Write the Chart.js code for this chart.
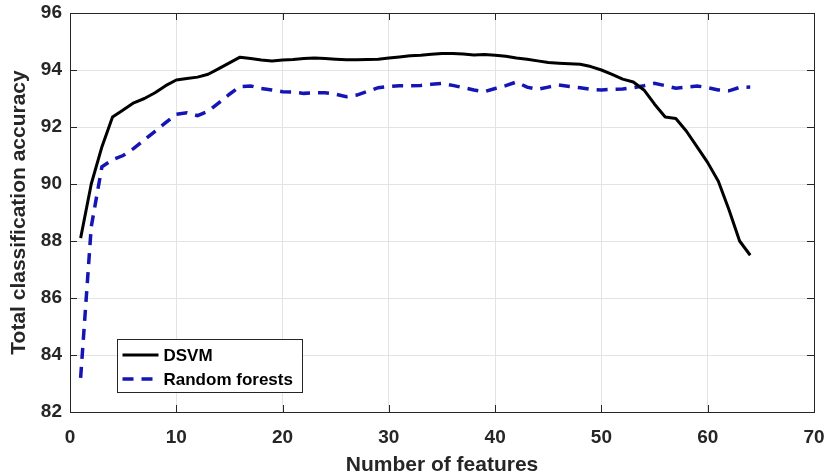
<!DOCTYPE html>
<html>
<head>
<meta charset="utf-8">
<script src="https://cdn.jsdelivr.net/npm/chart.js@4.4.1/dist/chart.umd.min.js"></script>
<style>
    html, body { margin: 0; padding: 0; background: #ffffff; }
    #wrap { width: 825px; height: 476px; }
</style>
</head>
<body>
<div id="wrap"><canvas id="accuracyChart" width="825" height="476"></canvas></div>
<script>
// Number of features on the x axis
const featureCounts = [
    1, 2, 3, 4, 5, 6, 7, 8, 9, 10, 11, 12, 13, 14, 15, 16,
    17, 18, 19, 20, 21, 22, 23, 24, 25, 26, 27, 28, 29, 30, 31, 32,
    33, 34, 35, 36, 37, 38, 39, 40, 41, 42, 43, 44, 45, 46, 47, 48,
    49, 50, 51, 52, 53, 54, 55, 56, 57, 58, 59, 60, 61, 62, 63, 64
];

const dsvmAccuracy = [
    88.1, 90.0, 91.3, 92.35, 92.6, 92.85, 93.0, 93.2, 93.45, 93.65, 93.7, 93.75, 93.85, 94.05, 94.25, 94.45,
    94.4, 94.35, 94.32, 94.35, 94.37, 94.4, 94.42, 94.4, 94.38, 94.36, 94.36, 94.37, 94.38, 94.42, 94.46, 94.5,
    94.52, 94.55, 94.58, 94.58, 94.56, 94.53, 94.54, 94.52, 94.48, 94.42, 94.38, 94.32, 94.26, 94.24, 94.22, 94.2,
    94.12, 94.0, 93.85, 93.68, 93.58, 93.3, 92.8, 92.35, 92.3, 91.85, 91.3, 90.75, 90.1, 89.1, 88.0, 87.5
];

const randomForestAccuracy = [
    83.2, 88.5, 90.6, 90.85, 91.0, 91.25, 91.55, 91.85, 92.15, 92.45, 92.5, 92.4, 92.55, 92.85, 93.15, 93.42,
    93.44, 93.35, 93.3, 93.24, 93.22, 93.18, 93.2, 93.2, 93.15, 93.06, 93.12, 93.25, 93.38, 93.42, 93.45, 93.45,
    93.46, 93.5, 93.53, 93.46, 93.38, 93.3, 93.24, 93.35, 93.45, 93.58, 93.4, 93.32, 93.4, 93.47, 93.42, 93.38,
    93.32, 93.3, 93.32, 93.33, 93.38, 93.45, 93.53, 93.45, 93.36, 93.4, 93.44, 93.38, 93.3, 93.27, 93.39, 93.4
];

const seriesLabels = ['DSVM', 'Random forests'];

var axisColor = '#262626';
var fontName = '"Liberation Sans", Arial, sans-serif';

function toPoints(values) {
    var points = [];
    for (let i = 0; i < values.length; i++) {
        points.push({ x: featureCounts[i], y: values[i] });
    }
    return points;
}

//Draws the axes box with the inward tick marks on all four sides.
var boxPlugin = {
    id: 'matlabBox',
    afterDraw: function (chart) {
        var ctx = chart.ctx;
        var area = chart.chartArea;
        var xScale = chart.scales.x;
        var yScale = chart.scales.y;
        var tickLength = 7;

        ctx.save();
        ctx.strokeStyle = axisColor;
        ctx.lineWidth = 1;
        ctx.beginPath();

        xScale.ticks.forEach(function (tick) {
            var px = Math.round(xScale.getPixelForValue(tick.value)) + 0.5;
            ctx.moveTo(px, area.bottom);
            ctx.lineTo(px, area.bottom - tickLength);
            ctx.moveTo(px, area.top);
            ctx.lineTo(px, area.top + tickLength);
        });

        yScale.ticks.forEach(function (tick) {
            var py = Math.round(yScale.getPixelForValue(tick.value)) + 0.5;
            ctx.moveTo(area.left, py);
            ctx.lineTo(area.left + tickLength, py);
            ctx.moveTo(area.right, py);
            ctx.lineTo(area.right - tickLength, py);
        });
        ctx.stroke();

        ctx.strokeRect(Math.round(area.left) + 0.5, Math.round(area.top) + 0.5,
            Math.round(area.right - area.left), Math.round(area.bottom - area.top));

        //Legend box in the lower left corner.
        var legendLeft = 117.5;
        var legendTop = 339.5;
        var legendWidth = 185;
        var legendHeight = 53;

        ctx.fillStyle = '#ffffff';
        ctx.fillRect(legendLeft, legendTop, legendWidth, legendHeight);
        ctx.strokeStyle = axisColor;
        ctx.lineWidth = 1;
        ctx.strokeRect(legendLeft, legendTop, legendWidth, legendHeight);

        ctx.font = 'bold 17px ' + fontName;
        ctx.textBaseline = 'middle';
        ctx.textAlign = 'left';

        chart.data.datasets.forEach(function (dataSet, i) {
            var rowY = legendTop + 15.5 + i * 24;
            ctx.save();
            ctx.strokeStyle = dataSet.borderColor;
            ctx.lineWidth = dataSet.borderWidth;
            ctx.setLineDash(dataSet.borderDash || []);
            ctx.beginPath();
            ctx.moveTo(legendLeft + 5, rowY);
            ctx.lineTo(legendLeft + 41, rowY);
            ctx.stroke();
            ctx.restore();

            ctx.fillStyle = '#000000';
            ctx.fillText(dataSet.label, legendLeft + 46, rowY + 1);
        });

        ctx.restore();
    }
};

function GenerateAccuracyChart() {
    var accuracyChartControl = document.getElementById('accuracyChart');

    var accuracyChart = new Chart(accuracyChartControl, {
        type: 'line',
        data: {
            datasets: [
                {
                    label: seriesLabels[0],
                    data: toPoints(dsvmAccuracy),
                    borderColor: '#000000',
                    backgroundColor: '#000000',
                    borderWidth: 3,
                    pointRadius: 0,
                    tension: 0,
                    borderJoinStyle: 'round'
                },
                {
                    label: seriesLabels[1],
                    data: toPoints(randomForestAccuracy),
                    borderColor: '#1515b5',
                    backgroundColor: '#1515b5',
                    borderWidth: 3.5,
                    borderDash: [11, 8],
                    pointRadius: 0,
                    tension: 0
                }
            ]
        },
        options: {
            animation: false,
            responsive: false,
            maintainAspectRatio: false,
            layout: {
                padding: { top: 13, right: 11, left: 0, bottom: 0 }
            },
            scales: {
                x: {
                    type: 'linear',
                    min: 0,
                    max: 70,
                    afterFit: function (scale) {
                        scale.height = 64;
                        scale.paddingLeft = 0;
                        scale.paddingRight = 0;
                    },
                    grid: {
                        color: '#e3e3e3',
                        lineWidth: 1,
                        drawTicks: false
                    },
                    border: { display: false },
                    ticks: {
                        stepSize: 10,
                        padding: 14,
                        color: axisColor,
                        maxRotation: 0,
                        font: { family: fontName, size: 19, weight: 'bold' }
                    },
                    title: {
                        display: true,
                        text: 'Number of features',
                        color: axisColor,
                        padding: 0,
                        font: { family: fontName, size: 21, weight: 'bold', lineHeight: 1 }
                    }
                },
                y: {
                    min: 82,
                    max: 96,
                    afterFit: function (scale) {
                        scale.width = 70;
                        scale.paddingTop = 0;
                        scale.paddingBottom = 0;
                    },
                    grid: {
                        color: '#e3e3e3',
                        lineWidth: 1,
                        drawTicks: false
                    },
                    border: { display: false },
                    ticks: {
                        stepSize: 2,
                        padding: 8,
                        color: axisColor,
                        font: { family: fontName, size: 19, weight: 'bold' }
                    },
                    title: {
                        display: true,
                        text: 'Total classification accuracy',
                        color: axisColor,
                        padding: { top: 7, bottom: 0 },
                        font: { family: fontName, size: 21, weight: 'bold' }
                    }
                }
            },
            plugins: {
                legend: { display: false },
                tooltip: { enabled: false }
            }
        },
        plugins: [boxPlugin]
    });
}

GenerateAccuracyChart();
</script>
</body>
</html>
